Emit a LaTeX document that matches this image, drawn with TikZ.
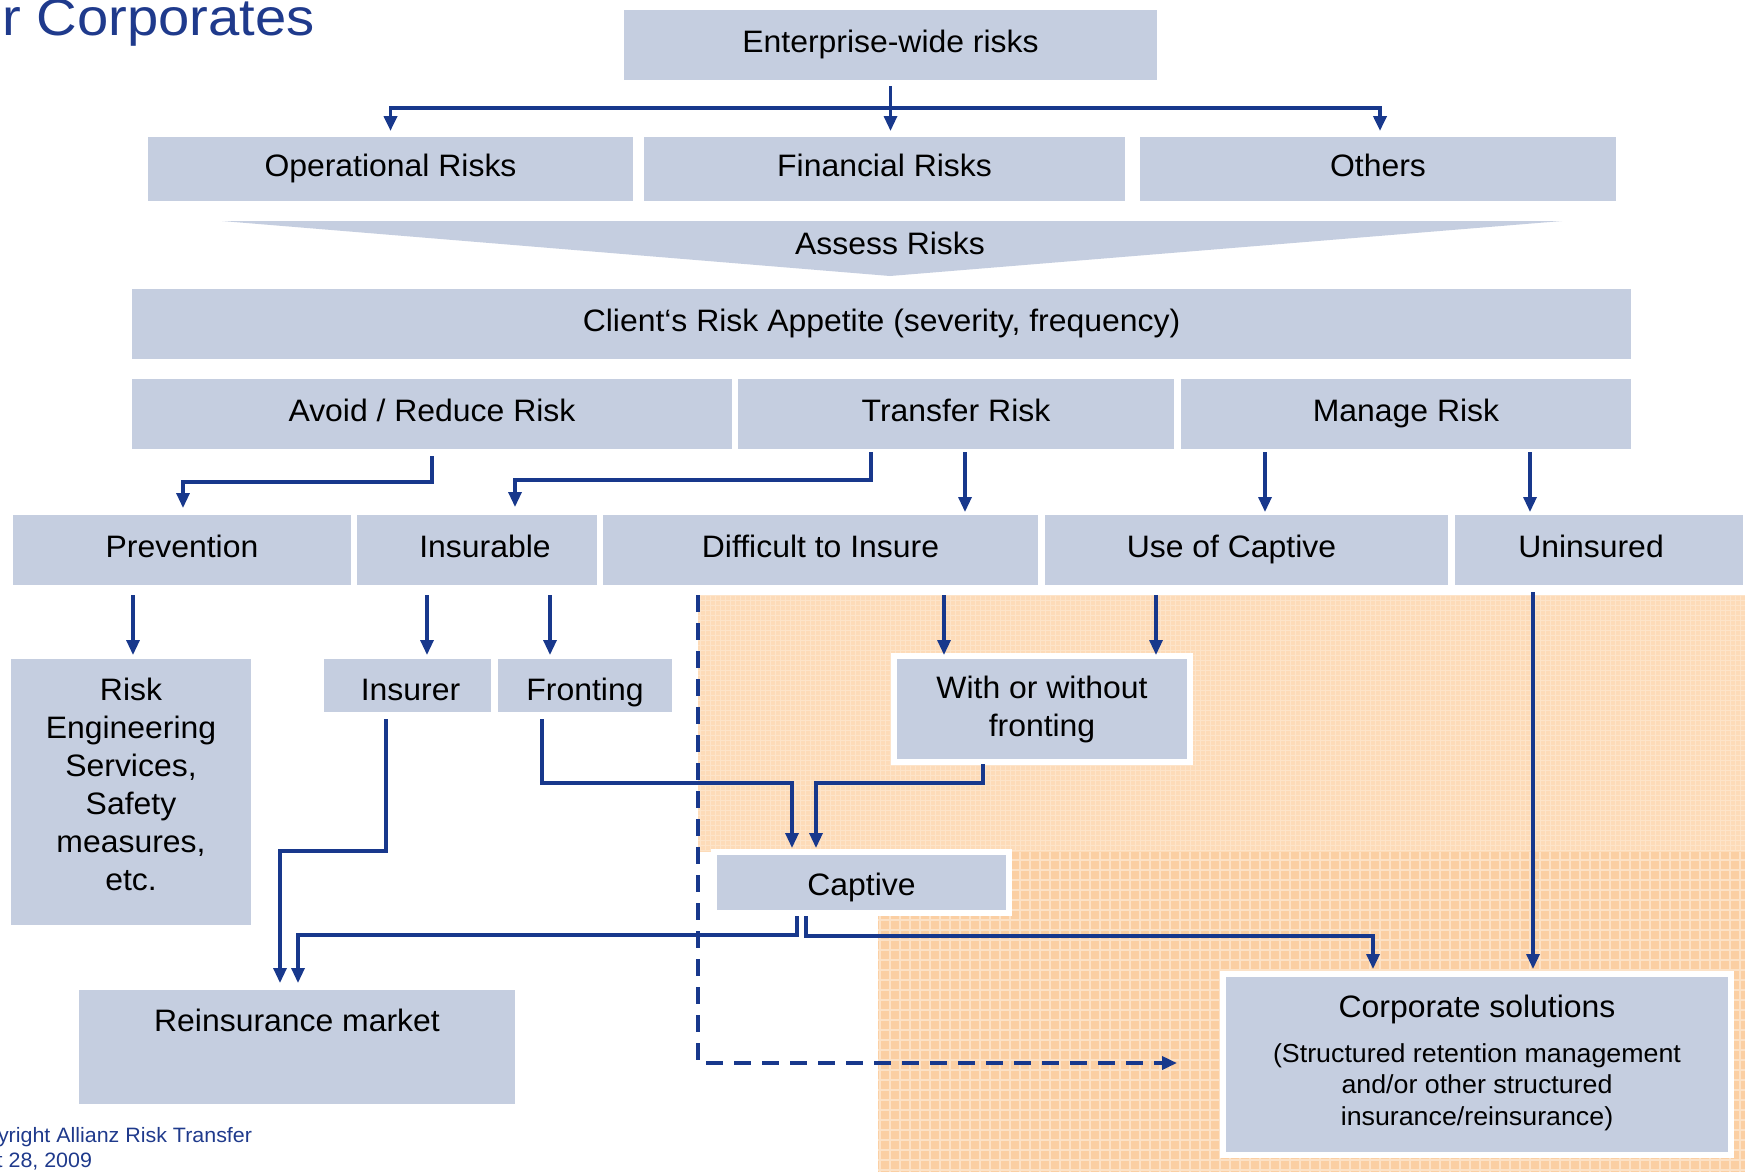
\documentclass[tikz,border=0pt]{standalone}
\usepackage{graphicx}
\usepackage{fontspec}
\setmainfont{Liberation Sans}[FakeStretch=1.03]
\usetikzlibrary{arrows.meta,calc}
\definecolor{boxc}{RGB}{197,206,224}
\definecolor{arrc}{RGB}{24,56,140}
\definecolor{orgA}{RGB}{253,219,184}
\definecolor{orgB}{RGB}{251,207,163}
\definecolor{titc}{RGB}{31,58,140}
\begin{document}
\begin{tikzpicture}[x=1pt,y=-1pt,
  base/.style={inner sep=0pt,outer sep=0pt,font=\fontsize{31}{38}\selectfont},
  fillbox/.style={base,fill=boxc},
  bx/.style={fillbox,text height=22pt,text depth=7pt},
  lowbx/.style={fillbox,text height=29pt,text depth=0pt},
  wbox/.style={fillbox,draw=white,line width=6pt},
  txt/.style={base,text height=22pt,text depth=7pt},
  mtxt/.style={base,align=center},
  small/.style={inner sep=0pt,outer sep=0pt,text=titc,anchor=base east,font=\fontsize{20.8}{24}\selectfont},
  conn/.style={draw=arrc,line width=3.2pt},
  arr/.style={conn,-{Triangle[length=15pt,width=13pt]}},
  dasharr/.style={arr,line width=3.6pt,dash pattern=on 17pt off 11pt}]
\fill[white] (0,0) rectangle (1745,1172);
\useasboundingbox (0,0) rectangle (1745,1172);
% shaded area
\fill[orgA] (698,595) rectangle (1745,852);
\fill[orgB] (878,852) rectangle (1745,1172);
\draw[white,opacity=0.4,line width=2pt,step=10pt] (878,852) grid (1745,1172);
\draw[white,opacity=0.25,line width=1pt,step=5pt] (698,595) grid (1745,850);
% title and footer
\node[inner sep=0pt,outer sep=0pt,text=titc,anchor=base east,font=\fontsize{52}{60}\selectfont] (title) at (315,36) {\scalebox{1.05}[1]{r Corporates}};
\node[small] (copy1) at (252,1142) {yright Allianz Risk Transfer};
\node[small] (copy2) at (92,1167) {t 28, 2009};
% boxes
\node[bx,minimum width=533pt,minimum height=70pt] (ent) at (890.5,45) {Enterprise-wide risks};
\node[bx,minimum width=485pt,minimum height=64pt] (op) at (390.5,169) {Operational Risks};
\node[bx,minimum width=481pt,minimum height=64pt] (fin) at (884.5,169) {Financial Risks};
\node[bx,minimum width=476pt,minimum height=64pt] (oth) at (1378,169) {Others};
\fill[boxc] (222,221) -- (1562,221) -- (890,276) -- cycle;
\node[txt] (assess) at (890,247) {Assess Risks};
\node[bx,minimum width=1499pt,minimum height=70pt] (app) at (881.5,324) {Client‘s Risk Appetite (severity, frequency)};
\node[bx,minimum width=600pt,minimum height=70pt] (avoid) at (432,414) {Avoid / Reduce Risk};
\node[bx,minimum width=436pt,minimum height=70pt] (transfer) at (956,414) {Transfer Risk};
\node[bx,minimum width=450pt,minimum height=70pt] (manage) at (1406,414) {Manage Risk};
\node[bx,minimum width=338pt,minimum height=70pt] (prev) at (182,550) {Prevention};
\node[bx,minimum width=240pt,minimum height=70pt] (insurable) at (477,550) {\hspace*{16pt}Insurable};
\node[bx,minimum width=435pt,minimum height=70pt] (diff) at (820.5,550) {Difficult to Insure};
\node[bx,minimum width=403pt,minimum height=70pt] (usecap) at (1246.5,550) {\hspace*{-30pt}Use of Captive};
\node[bx,minimum width=288pt,minimum height=70pt] (unins) at (1599,550) {\hspace*{-16pt}Uninsured};
\node[fillbox,minimum width=240pt,minimum height=266pt] (riskeng) at (131,792) {};
\node[mtxt] (riskengt) at (131,784) {Risk\\Engineering\\Services,\\Safety\\measures,\\etc.};
\node[lowbx,minimum width=167pt,minimum height=53pt] (insurer) at (407.5,685.5) {\hspace*{6pt}Insurer};
\node[lowbx,minimum width=174pt,minimum height=53pt] (fronting) at (585,685.5) {Fronting};
\node[wbox,align=center,minimum width=296pt,minimum height=106pt] (withwo) at (1042,709) {With or without\\fronting};
\node[wbox,text height=25pt,text depth=0pt,minimum width=295pt,minimum height=61pt] (captive) at (861.5,882.5) {Captive};
\node[fillbox,minimum width=436pt,minimum height=114pt] (reins) at (297,1047) {};
\node[txt] (reinst) at (297,1023.5) {Reinsurance market};
\node[wbox,minimum width=508pt,minimum height=181pt] (corp) at (1477,1064.5) {};
\node[base,anchor=base] (corpt) at (1477,1017) {Corporate solutions};
\node[base,anchor=base,font=\fontsize{26}{31}\selectfont] (corps1) at (1477,1062) {(Structured retention management};
\node[base,anchor=base,font=\fontsize{26}{31}\selectfont] (corps2) at (1477,1093) {and/or other structured};
\node[base,anchor=base,font=\fontsize{26}{31}\selectfont] (corps3) at (1477,1125) {insurance/reinsurance)};
% connectors
\draw[arr] ($(ent.south)+(0,6)$) -- ($(ent.south |- fin.north)+(0,-6)$);
\draw[arr,line width=3.8pt] ($(ent.south)+(0,28)$) -| ($(op.north)+(0,-6)$);
\draw[arr,line width=3.8pt] ($(ent.south)+(0,28)$) -| ($(oth.north)+(2,-6)$);
\draw[arr] ($(avoid.south)+(0,7)$) -- ++(0,26) -| ($(prev.north)+(1,-7)$);
\draw[arr] ($(transfer.south)+(-85,3)$) -- ++(0,28) -| ($(insurable.north)+(38,-8)$);
\draw[arr] ($(transfer.south)+(9,3)$) -- ($(transfer.south |- diff.north)+(9,-3)$);
\draw[arr] ($(manage.south)+(-141,3)$) -- ($(manage.south |- usecap.north)+(-141,-3)$);
\draw[arr] ($(manage.south)+(124,3)$) -- ($(manage.south |- unins.north)+(124,-3)$);
\draw[arr] ($(prev.south)+(-49,10)$) -- ($(prev.south |- riskeng.north)+(-49,-4)$);
\draw[arr] ($(insurable.south)+(-50,10)$) -- ($(insurable.south |- insurer.north)+(-50,-4)$);
\draw[arr] ($(insurable.south)+(73,10)$) -- ($(insurable.south |- fronting.north)+(73,-4)$);
\draw[arr] ($(diff.south)+(123.5,10)$) -- ($(diff.south |- withwo.north)+(123.5,-1)$);
\draw[arr] ($(usecap.south)+(-90.5,10)$) -- ($(usecap.south |- withwo.north)+(-90.5,-1)$);
\draw[arr] ($(unins.south)+(-66,7)$) -- ($(unins.south |- corp.north)+(-66,-5)$);
\draw[arr] ($(insurer.south)+(-21.5,7)$) -- ++(0,132) -| ($(reins.north)+(-17,-7)$);
\draw[arr] ($(fronting.south)+(-43,7)$) -- ++(0,64) -| ($(captive.north)+(-69.5,-4)$);
\draw[arr] ($(withwo.south)+(-59,2)$) -- ++(0,19) -| ($(captive.north)+(-45.5,-4)$);
\draw[arr] ($(captive.south)+(-64.5,3)$) -- ++(0,19) -| ($(reins.north)+(1,-7)$);
\draw[arr] ($(captive.south)+(-55.5,3)$) -- ++(0,20) -| ($(corp.north)+(-104,-5)$);
\draw[dasharr] ($(diff.south)+(-122.5,10)$) |- ($(corp.west)+(-46,-1.5)$);
\end{tikzpicture}
\end{document}
